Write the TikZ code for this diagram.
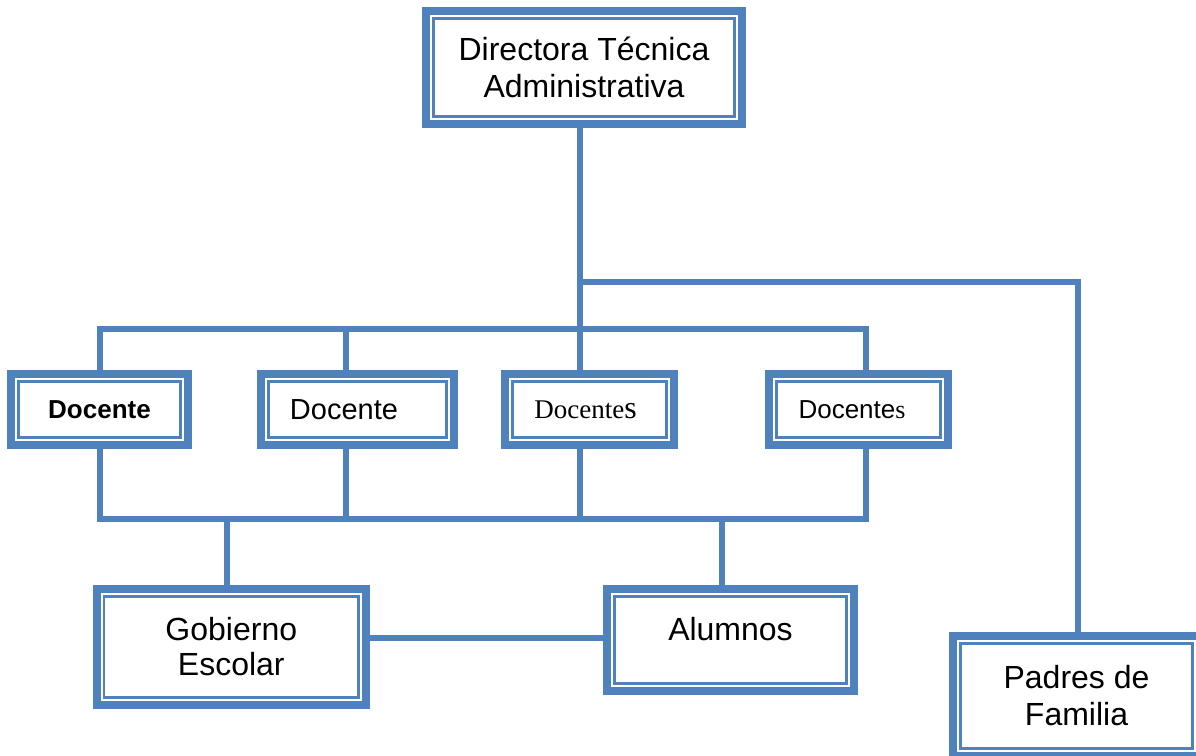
\documentclass[tikz,border=0pt]{standalone}
\usepackage{fontspec}
\setmainfont{Liberation Sans}
\newfontfamily\tnr{Liberation Serif}
\definecolor{bl}{HTML}{4F81BD}
\newcommand\innerline[1]{\draw[draw=bl,line width=2.4pt] ([xshift=7.4pt,yshift=-7.4pt]#1.north west) rectangle ([xshift=-7.4pt,yshift=7.4pt]#1.south east);}
\begin{document}
\begin{tikzpicture}[x=1pt,y=-1pt,
  ln/.style={draw=bl,line width=6pt,line join=miter},
  obox/.style={draw=bl,line width=8pt,fill=white,inner sep=0pt,outer sep=0pt,anchor=center},
  big/.style={font=\fontsize{32}{37}\selectfont}]
\path[use as bounding box] (0,0) rectangle (1196,755);
\clip (0,0) rectangle (1196,755);
% columns and rows
\coordinate (c0) at (100,0);
\coordinate (c1) at (346,0);
\coordinate (c2) at (580,0);
\coordinate (c3) at (866,0);
\coordinate (cG) at (226.5,0);
\coordinate (cA) at (721.5,0);
\coordinate (cP) at (1078,0);
\coordinate (rA) at (0,282);
\coordinate (rB) at (0,329);
\coordinate (rC) at (0,519);
\coordinate (rD) at (0,638);
% boxes
\node[obox,big,align=center,minimum width=316pt,minimum height=113pt] (dir) at (584,67.5) {Directora Técnica\\Administrativa};
\node[obox,minimum width=177pt,minimum height=71pt,font=\bfseries\fontsize{26}{30}\selectfont] (d1) at (99.5,409.5) {Docente};
\node[obox,minimum width=193pt,minimum height=71pt,font=\fontsize{29}{33}\selectfont] (d2) at (357.5,409.5) {\hspace*{-27pt}Docente};
\node[obox,minimum width=169pt,minimum height=71pt,font=\tnr\fontsize{27}{31}\selectfont] (d3) at (589.5,409.5) {\hspace*{-8pt}Docente{\fontsize{32}{32}\selectfont s}};
\node[obox,minimum width=179pt,minimum height=71pt,font=\fontsize{26}{30}\selectfont] (d4) at (858.5,409.5) {\hspace*{-13pt}Docente{\tnr s}};
\node[obox,align=center,minimum width=269pt,minimum height=116pt,font=\fontsize{32}{35}\selectfont] (gob) at (231.3,647) {Gobierno\\Escolar};
\node[obox,big,minimum width=247pt,minimum height=102pt,text height=20pt,text depth=20pt] (alu) at (730.5,640) {Alumnos};
\node[obox,align=center,minimum width=247pt,minimum height=120pt,font=\fontsize{32}{37}\selectfont] (pad) at (1076.5,696) {Padres de\\Familia};
\foreach \n in {dir,d1,d2,d3,d4,gob,alu,pad} {\innerline{\n}}
% connectors
\draw[ln] (dir.south -| c2) -- (d3.north -| c2);
\draw[ln] (c2 |- rA) -| (pad.north -| cP);
\draw[ln] (d1.north -| c0) |- (c3 |- rB) -- (d4.north -| c3);
\draw[ln] (c1 |- rB) -- (d2.north -| c1);
\draw[ln] (d1.south -| c0) |- (c3 |- rC) -- (d4.south -| c3);
\draw[ln] (d2.south -| c1) -- (c1 |- rC);
\draw[ln] (d3.south -| c2) -- (c2 |- rC);
\draw[ln] (cG |- rC) -- (gob.north -| cG);
\draw[ln] (cA |- rC) -- (alu.north -| cA);
\draw[ln] (gob.east |- rD) -- (alu.west |- rD);
\end{tikzpicture}
\end{document}
